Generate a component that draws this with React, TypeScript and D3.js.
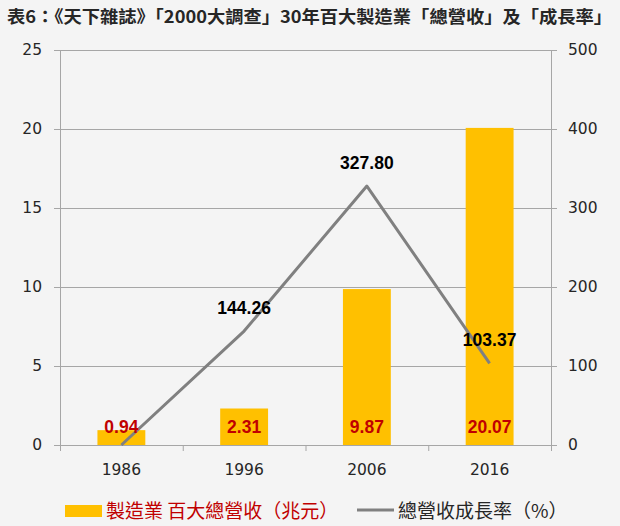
import React, { useEffect, useRef } from 'react';
import * as d3 from 'd3';

const TITLE = '表6：《天下雜誌》「2000大調查」30年百大製造業「總營收」及「成長率」';
const years = ['1986', '1996', '2006', '2016'];
const revenue = [0.94, 2.31, 9.87, 20.07];
const growth = [0, 144.26, 327.8, 103.37];
const growthLabels = ['', '144.26', '327.80', '103.37'];
const leftTicks = [0, 5, 10, 15, 20, 25];
const rightTicks = [0, 100, 200, 300, 400, 500];
const barLegend = '製造業 百大總營收（兆元）';
const lineLegend = '總營收成長率（%）';

const COLORS = {
  bg: '#f4f4f4',
  bar: '#ffc000',
  line: '#808080',
  grid: '#a6a6a6',
  text: '#262626',
  red: '#c00000',
};

const TICK_FONT = '"DejaVu Sans", sans-serif';
const LABEL_FONT = '"Liberation Sans", Arial, sans-serif';
const CJK = '"Noto Sans CJK TC", sans-serif';

function drawChart(node: SVGSVGElement) {
  const width = 620;
  const height = 526;
  const margin = { top: 50, right: 69, bottom: 81, left: 60 };
  const innerWidth = width - margin.left - margin.right;
  const innerHeight = height - margin.top - margin.bottom;

  const svg = d3.select(node);
  svg.selectAll('*').remove();

  svg.append('rect').attr('width', width).attr('height', height).attr('fill', COLORS.bg);

  svg.append('text')
    .attr('x', 7)
    .attr('y', 23)
    .attr('font-family', CJK)
    .attr('font-weight', 700)
    .attr('font-size', 17)
    .attr('fill', COLORS.text)
    .attr('textLength', 605)
    .attr('lengthAdjust', 'spacingAndGlyphs')
    .text(TITLE);

  const chart = svg.append('g').attr('transform', `translate(${margin.left},${margin.top})`);

  const x = d3.scaleBand().domain(years).range([0, innerWidth]);
  const yLeft = d3.scaleLinear().domain([0, 25]).range([innerHeight, 0]);
  const yRight = d3.scaleLinear().domain([0, 500]).range([innerHeight, 0]);

  // gridlines
  chart.append('g')
    .selectAll('line')
    .data(leftTicks)
    .join('line')
    .attr('x1', -6)
    .attr('x2', innerWidth + 6)
    .attr('y1', (d) => yLeft(d) + 0.5)
    .attr('y2', (d) => yLeft(d) + 0.5)
    .attr('stroke', COLORS.grid)
    .attr('stroke-width', 1);

  // axis lines
  chart.append('line')
    .attr('x1', 0.5).attr('x2', 0.5)
    .attr('y1', 0).attr('y2', innerHeight + 6)
    .attr('stroke', COLORS.grid);
  chart.append('line')
    .attr('x1', innerWidth + 0.5).attr('x2', innerWidth + 0.5)
    .attr('y1', 0).attr('y2', innerHeight + 6)
    .attr('stroke', COLORS.grid);

  // category boundary ticks
  chart.append('g')
    .selectAll('line')
    .data(years.slice(1))
    .join('line')
    .attr('x1', (d) => (x(d) as number) + 0.5)
    .attr('x2', (d) => (x(d) as number) + 0.5)
    .attr('y1', innerHeight)
    .attr('y2', innerHeight + 6)
    .attr('stroke', COLORS.grid);

  // left tick labels
  chart.append('g')
    .selectAll('text')
    .data(leftTicks)
    .join('text')
    .attr('x', -18)
    .attr('y', (d) => yLeft(d))
    .attr('dy', '0.35em')
    .attr('text-anchor', 'end')
    .attr('font-family', TICK_FONT)
    .attr('font-size', 15.5)
    .attr('fill', COLORS.text)
    .text((d) => d);

  // right tick labels
  chart.append('g')
    .selectAll('text')
    .data(rightTicks)
    .join('text')
    .attr('x', innerWidth + 17)
    .attr('y', (d) => yRight(d))
    .attr('dy', '0.35em')
    .attr('text-anchor', 'start')
    .attr('font-family', TICK_FONT)
    .attr('font-size', 15.5)
    .attr('fill', COLORS.text)
    .text((d) => d);

  // category labels
  chart.append('g')
    .selectAll('text')
    .data(years)
    .join('text')
    .attr('x', (d) => (x(d) as number) + x.bandwidth() / 2)
    .attr('y', innerHeight + 30)
    .attr('text-anchor', 'middle')
    .attr('font-family', TICK_FONT)
    .attr('font-size', 15.5)
    .attr('fill', COLORS.text)
    .text((d) => d);

  const barWidth = x.bandwidth() * 0.39;
  const barData = years.map((year, i) => ({ year, value: revenue[i] }));

  chart.append('g')
    .selectAll('rect')
    .data(barData)
    .join('rect')
    .attr('x', (d) => (x(d.year) as number) + (x.bandwidth() - barWidth) / 2)
    .attr('y', (d) => yLeft(d.value))
    .attr('width', barWidth)
    .attr('height', (d) => innerHeight - yLeft(d.value))
    .attr('fill', COLORS.bar);

  const lineData = years.map((year, i) => ({ year, value: growth[i], label: growthLabels[i] }));
  const line = d3.line<{ year: string; value: number }>()
    .x((d) => (x(d.year) as number) + x.bandwidth() / 2)
    .y((d) => yRight(d.value));

  chart.append('path')
    .datum(lineData)
    .attr('d', line)
    .attr('fill', 'none')
    .attr('stroke', COLORS.line)
    .attr('stroke-width', 3)
    .attr('stroke-linejoin', 'round');

  // bar value labels (inside base)
  chart.append('g')
    .selectAll('text')
    .data(barData)
    .join('text')
    .attr('x', (d) => (x(d.year) as number) + x.bandwidth() / 2)
    .attr('y', innerHeight - 18)
    .attr('dy', '0.35em')
    .attr('text-anchor', 'middle')
    .attr('font-family', LABEL_FONT)
    .attr('font-weight', 700)
    .attr('font-size', 17.5)
    .attr('fill', COLORS.red)
    .text((d) => d.value.toFixed(2));

  // line value labels
  chart.append('g')
    .selectAll('text')
    .data(lineData.filter((d) => d.label))
    .join('text')
    .attr('x', (d) => (x(d.year) as number) + x.bandwidth() / 2)
    .attr('y', (d) => yRight(d.value) - 23)
    .attr('dy', '0.35em')
    .attr('text-anchor', 'middle')
    .attr('font-family', LABEL_FONT)
    .attr('font-weight', 700)
    .attr('font-size', 17.5)
    .attr('fill', '#000')
    .text((d) => d.label);

  // legend
  const legend = svg.append('g');
  legend.append('rect')
    .attr('x', 65).attr('y', 505)
    .attr('width', 37).attr('height', 12)
    .attr('fill', COLORS.bar);
  legend.append('text')
    .attr('x', 106).attr('y', 511)
    .attr('dy', '0.35em')
    .attr('font-family', CJK)
    .attr('font-size', 19)
    .attr('fill', COLORS.red)
    .text(barLegend);
  legend.append('line')
    .attr('x1', 357).attr('x2', 394)
    .attr('y1', 510).attr('y2', 510)
    .attr('stroke', COLORS.line)
    .attr('stroke-width', 3);
  legend.append('text')
    .attr('x', 398).attr('y', 511)
    .attr('dy', '0.35em')
    .attr('font-family', CJK)
    .attr('font-size', 19)
    .attr('fill', COLORS.text)
    .text(lineLegend);
}

export default function App() {
  const ref = useRef<SVGSVGElement>(null);

  useEffect(() => {
    if (ref.current) {
      drawChart(ref.current);
    }
  }, []);

  return (
    <svg
      ref={ref}
      width={620}
      height={526}
      style={{ position: 'absolute', left: 0, top: 0, display: 'block' }}
    />
  );
}
